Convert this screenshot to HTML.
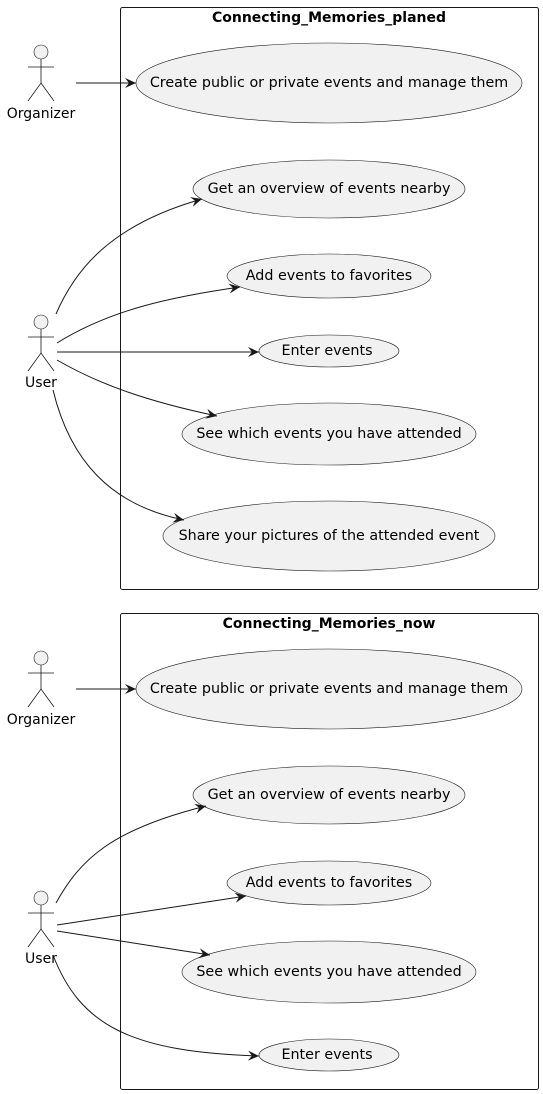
<!DOCTYPE html>
<html><head><meta charset="utf-8"><style>
html,body{margin:0;padding:0;background:#fff}
svg{display:block}
text{font-family:"DejaVu Sans","Liberation Sans",sans-serif;font-size:14px;fill:#000}
.u{font-size:14.3px}
.t{font-weight:bold}
.e{fill:#f1f1f1;stroke:#181818;stroke-width:0.6}
.b{fill:none;stroke:#181818;stroke-width:1}
.l{fill:none;stroke:#181818;stroke-width:1}
.a{fill:#f1f1f1;stroke:#181818;stroke-width:0.6}
</style></head><body>
<svg width="543" height="1094" viewBox="0 0 543 1094" xmlns="http://www.w3.org/2000/svg">
<defs>
<marker id="m" markerWidth="12" markerHeight="10" refX="11" refY="5" orient="auto" markerUnits="userSpaceOnUse">
<path d="M0,0 L11,5 L0,10 L4,5 Z" fill="#181818"/>
</marker>
<g id="actor">
<circle cx="0" cy="0" r="7" class="a"/>
<path d="M0,7 V31 M-13,15 H13 M-13,49 L0,31 L13,49" class="l" style="stroke-width:0.8"/>
</g>
</defs>
<rect x="120.5" y="7.5" width="418" height="582" rx="2" class="b"/>
<text x="329" y="22" text-anchor="middle" class="t">Connecting_Memories_planed</text>
<rect x="120.5" y="613.5" width="418" height="476" rx="2" class="b"/>
<text x="329" y="628" text-anchor="middle" class="t">Connecting_Memories_now</text>

<use href="#actor" x="41" y="52"/>
<text x="41" y="118" text-anchor="middle">Organizer</text>
<use href="#actor" x="41" y="322"/>
<text x="41" y="387" text-anchor="middle">User</text>
<use href="#actor" x="41" y="658"/>
<text x="41" y="724" text-anchor="middle">Organizer</text>
<use href="#actor" x="41" y="898"/>
<text x="41" y="963" text-anchor="middle">User</text>

<ellipse cx="329" cy="83" rx="193" ry="40" class="e"/>
<text x="329" y="87" text-anchor="middle" class="u">Create public or private events and manage them</text>
<ellipse cx="329" cy="189" rx="136" ry="29" class="e"/>
<text x="329" y="193" text-anchor="middle" class="u">Get an overview of events nearby</text>
<ellipse cx="329" cy="276" rx="102" ry="22" class="e"/>
<text x="329" y="280" text-anchor="middle" class="u">Add events to favorites</text>
<ellipse cx="329" cy="351" rx="70" ry="16" class="e"/>
<text x="327" y="355" text-anchor="middle" class="u">Enter events</text>
<ellipse cx="329" cy="434" rx="147" ry="31" class="e"/>
<text x="329" y="438" text-anchor="middle" class="u">See which events you have attended</text>
<ellipse cx="329" cy="536" rx="166" ry="35" class="e"/>
<text x="329" y="540" text-anchor="middle" class="u">Share your pictures of the attended event</text>

<ellipse cx="329" cy="689" rx="193" ry="40" class="e"/>
<text x="329" y="693" text-anchor="middle" class="u">Create public or private events and manage them</text>
<ellipse cx="329" cy="795" rx="136" ry="29" class="e"/>
<text x="329" y="799" text-anchor="middle" class="u">Get an overview of events nearby</text>
<ellipse cx="329" cy="883" rx="102" ry="22" class="e"/>
<text x="329" y="887" text-anchor="middle" class="u">Add events to favorites</text>
<ellipse cx="329" cy="972" rx="147" ry="31" class="e"/>
<text x="329" y="976" text-anchor="middle" class="u">See which events you have attended</text>
<ellipse cx="329" cy="1055" rx="70" ry="16" class="e"/>
<text x="327" y="1059" text-anchor="middle" class="u">Enter events</text>

<path d="M76,83 L136,83" class="l" marker-end="url(#m)"/>
<path d="M56,314 C75,270 110,225 202,199" class="l" marker-end="url(#m)"/>
<path d="M57,343 C110,310 170,297 240,287" class="l" marker-end="url(#m)"/>
<path d="M57,352 L259,352" class="l" marker-end="url(#m)"/>
<path d="M57,360 C100,385 150,402 217,416" class="l" marker-end="url(#m)"/>
<path d="M53,390 C70,460 110,505 184,520" class="l" marker-end="url(#m)"/>

<path d="M76,689 L136,689" class="l" marker-end="url(#m)"/>
<path d="M56,903 C80,860 110,830 206,806" class="l" marker-end="url(#m)"/>
<path d="M57,925 L246,896" class="l" marker-end="url(#m)"/>
<path d="M57,931 L210,955" class="l" marker-end="url(#m)"/>
<path d="M53,955 C80,1025 130,1052 259,1056" class="l" marker-end="url(#m)"/>
</svg>
</body></html>
